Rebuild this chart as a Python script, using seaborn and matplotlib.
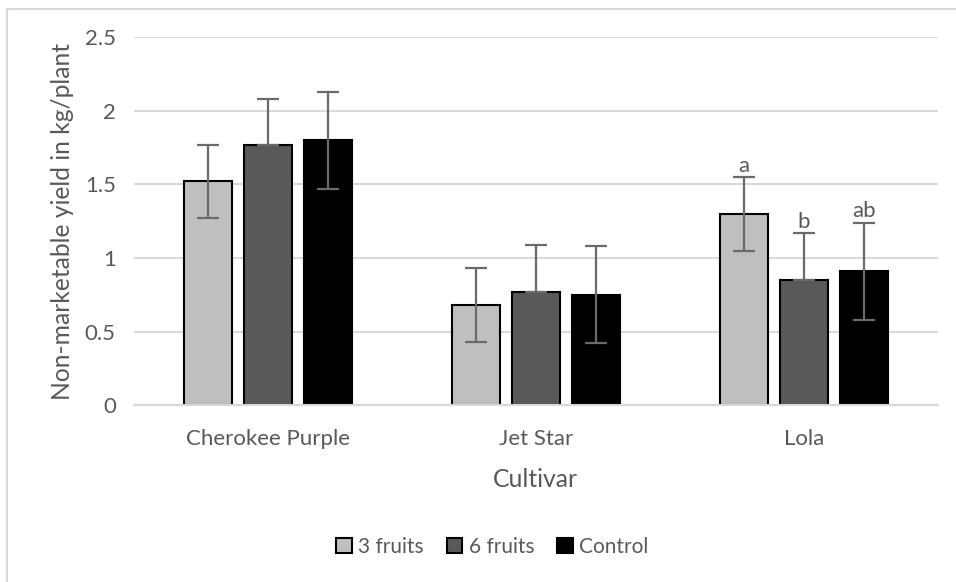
import matplotlib
matplotlib.use('Agg')
import matplotlib.pyplot as plt
import seaborn as sns
import pandas as pd
import numpy as np
from matplotlib.patches import Rectangle

cultivars = ['Cherokee Purple', 'Jet Star', 'Lola']
treatments = ['3 fruits', '6 fruits', 'Control']
yield_3 = [1.52, 0.68, 1.30]
yield_6 = [1.77, 0.77, 0.85]
yield_c = [1.80, 0.75, 0.91]
err_3 = [0.25, 0.25, 0.25]
err_6 = [0.31, 0.32, 0.32]
err_c = [0.33, 0.33, 0.33]
letters = {('Lola', '3 fruits'): 'a', ('Lola', '6 fruits'): 'b', ('Lola', 'Control'): 'ab'}

df = pd.DataFrame({
    'Cultivar': cultivars * 3,
    'Treatment': [t for t in treatments for _ in cultivars],
    'Yield': yield_3 + yield_6 + yield_c,
    'Err': err_3 + err_6 + err_c,
})

sns.set_style('white')
plt.rcParams['font.family'] = ['Lato', 'DejaVu Sans']
txt = '#595959'

fig = plt.figure(figsize=(9.56, 5.82), dpi=100)
ax = fig.add_axes([0.140, 0.304, 0.841, 0.632])

# chart-area frame (partly cut off in the original)
fig.patches.append(Rectangle((7/956, -0.05), 1.2, 1 - 9/582 + 0.05, transform=fig.transFigure,
                             fill=False, edgecolor='#d9d9d9', linewidth=1.5, zorder=0))

palette = {'3 fruits': '#bfbfbf', '6 fruits': '#595959', 'Control': '#000000'}
sns.barplot(data=df, x='Cultivar', y='Yield', hue='Treatment', order=cultivars,
            hue_order=treatments, palette=palette, errorbar=None, width=0.67, gap=0.2,
            edgecolor='black', linewidth=1.5, ax=ax, legend=True, zorder=2)

for cont, t in zip(ax.containers, treatments):
    sub = df[df['Treatment'] == t].set_index('Cultivar').loc[cultivars]
    xs = [p.get_x() + p.get_width() / 2 for p in cont.patches]
    # lower half of the 6 fruits bars is hidden in the original
    lower = np.zeros(3) if t == '6 fruits' else sub['Err'].values
    ax.errorbar(xs, sub['Yield'], yerr=[lower, sub['Err'].values], fmt='none', ecolor='#6a6a6a',
                elinewidth=1.6, capsize=8, capthick=1.6, zorder=3)
    for x, c in zip(xs, cultivars):
        lab = letters.get((c, t))
        if lab:
            top = sub.loc[c, 'Yield'] + sub.loc[c, 'Err']
            ax.annotate(lab, (x, top), xytext=(0, 1), textcoords='offset points',
                        ha='center', va='bottom', fontsize=16, color=txt)

ax.set_ylim(0, 2.5)
ax.set_xlim(-0.5, 2.5)
ax.set_yticks([0, 0.5, 1, 1.5, 2, 2.5])
ax.set_yticklabels(['0', '0.5', '1', '1.5', '2', '2.5'])
ax.yaxis.grid(True, color='#d9d9d9', linewidth=1.5)
ax.set_axisbelow(True)
for s in ['top', 'right', 'left']:
    ax.spines[s].set_visible(False)
ax.spines['bottom'].set_color('#d9d9d9')
ax.spines['bottom'].set_linewidth(1.5)
ax.tick_params(axis='both', length=0, labelsize=16, colors=txt)
ax.tick_params(axis='y', pad=13)
ax.tick_params(axis='x', pad=17)
ax.set_xlabel('Cultivar', fontsize=17.8, color=txt, labelpad=14)
ax.set_ylabel('Non-marketable yield in kg/plant', fontsize=17.7, color=txt, labelpad=8)

ax.legend(loc='center', bbox_to_anchor=(0.515, 0.060), bbox_transform=fig.transFigure,
          ncol=3, frameon=False, fontsize=15, handlelength=0.75, handleheight=0.75,
          handletextpad=0.3, columnspacing=1.1, labelcolor=txt)

fig.savefig('out.png', dpi=100)
